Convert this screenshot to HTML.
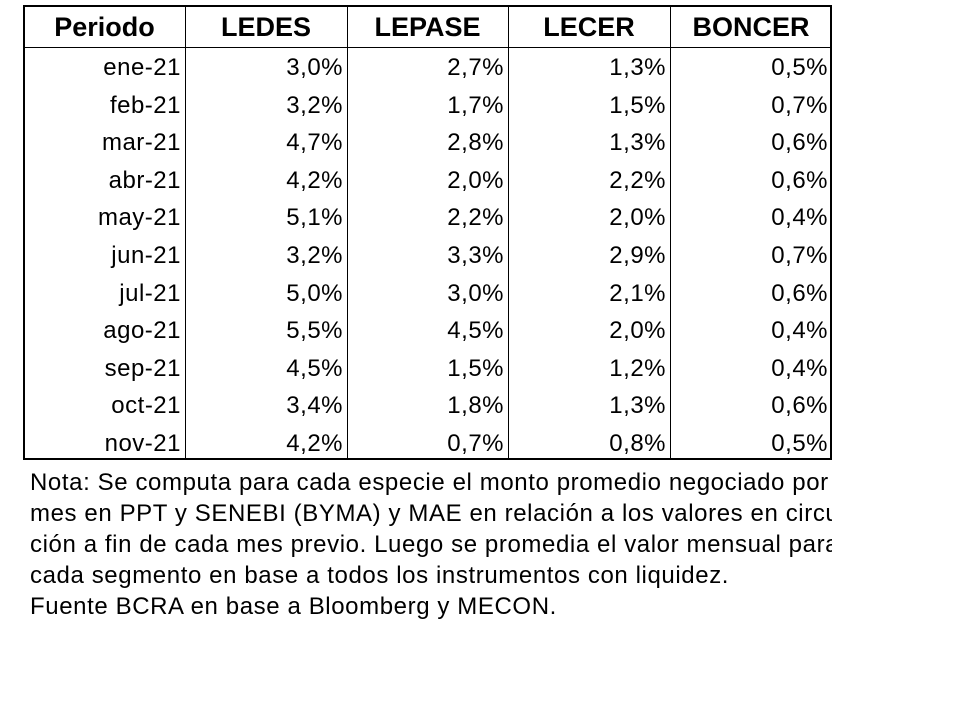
<!DOCTYPE html>
<html><head><meta charset="utf-8"><style>
body{margin:0;width:960px;height:720px;background:#fff;position:relative;overflow:hidden;font-family:"Liberation Sans",sans-serif;color:#000}
.t{position:absolute;left:23px;top:5px;width:809px;height:455px;border:2px solid #000;box-sizing:border-box}
.v{position:absolute;top:5px;height:455px;width:1px;background:#000}
.h{position:absolute;left:23px;width:809px;height:1px;background:#000}
.c{position:absolute;font-size:24px;white-space:nowrap;line-height:28px;letter-spacing:0.5px}
.hd{font-weight:bold;font-size:27px;text-align:center;letter-spacing:0}
.notes{position:absolute;left:30px;top:467px;width:802px;overflow:hidden;font-size:24px;line-height:31px;white-space:nowrap;letter-spacing:0.6px}
</style></head><body>
<div class="t"></div>
<div class="v" style="left:185px"></div>
<div class="v" style="left:347px"></div>
<div class="v" style="left:508px"></div>
<div class="v" style="left:670px"></div>
<div class="h" style="top:47px"></div>
<div id="cells"></div>
<div class="notes">Nota: Se computa para cada especie el monto promedio negociado por<br>mes en PPT y SENEBI (BYMA) y MAE en relación a los valores en circulación<br>ción a fin de cada mes previo. Luego se promedia el valor mensual para<br>cada segmento en base a todos los instrumentos con liquidez.<br>Fuente BCRA en base a Bloomberg y MECON.</div>
<script>
const headers=["Periodo","LEDES","LEPASE","LECER","BONCER"];
const periods=["ene-21","feb-21","mar-21","abr-21","may-21","jun-21","jul-21","ago-21","sep-21","oct-21","nov-21"];
const ledes=["3,0%","3,2%","4,7%","4,2%","5,1%","3,2%","5,0%","5,5%","4,5%","3,4%","4,2%"];
const lepase=["2,7%","1,7%","2,8%","2,0%","2,2%","3,3%","3,0%","4,5%","1,5%","1,8%","0,7%"];
const lecer=["1,3%","1,5%","1,3%","2,2%","2,0%","2,9%","2,1%","2,0%","1,2%","1,3%","0,8%"];
const boncer=["0,5%","0,7%","0,6%","0,6%","0,4%","0,7%","0,6%","0,4%","0,4%","0,6%","0,5%"];
const edges=[24,185,347,508,670,832];
const cols=[periods,ledes,lepase,lecer,boncer];
const box=document.getElementById('cells');
headers.forEach((h,i)=>{const d=document.createElement('div');d.className='c hd';


d.style.left=edges[i]+'px';d.style.width=(edges[i+1]-edges[i])+'px';d.style.top='13px';d.textContent=h;box.appendChild(d);});
cols.forEach((col,ci)=>col.forEach((v,ri)=>{const d=document.createElement('div');d.className='c';


d.style.right=(960-edges[ci+1]+4)+'px';d.style.top=(54+37.6*ri)+'px';d.textContent=v;box.appendChild(d);}));
</script>
</body></html>
